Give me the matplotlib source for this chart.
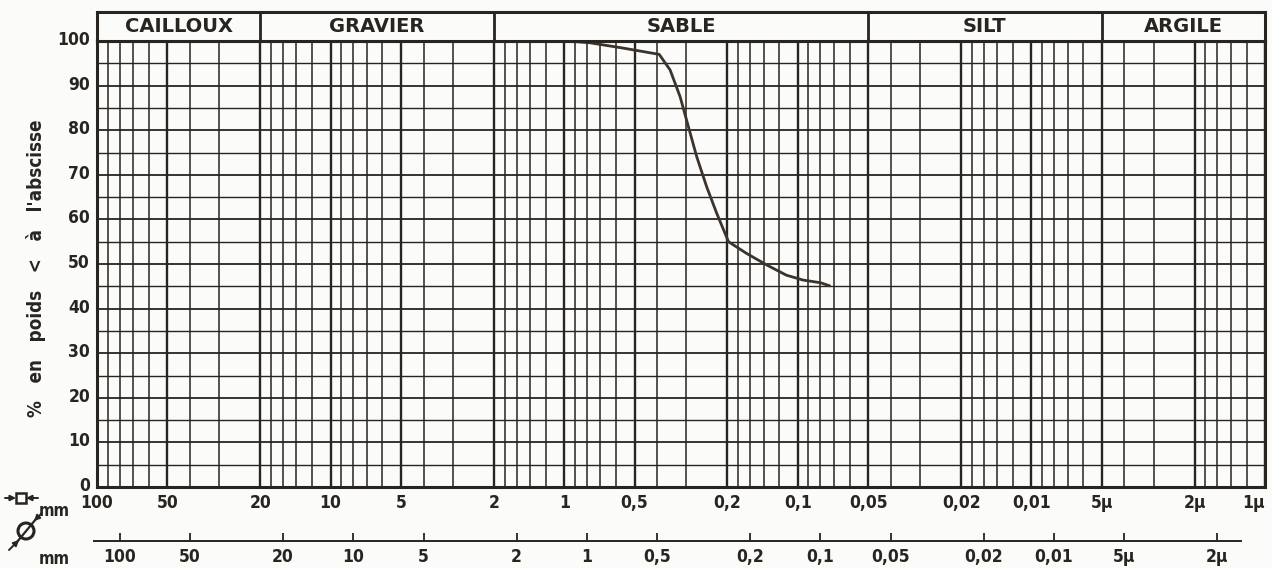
import numpy as np
import matplotlib.pyplot as plt
import matplotlib.transforms as mtransforms
from matplotlib.patches import Rectangle, Circle
from matplotlib.ticker import NullLocator

# courbe granulométrique : ouverture (mm, tamis à maille carrée) et % passant
diam_mm = [0.976, 0.776, 0.558, 0.392, 0.352, 0.319, 0.294, 0.271, 0.2455,
           0.2225, 0.198, 0.166, 0.136, 0.112, 0.095, 0.080, 0.073]
passing = [100.0, 99.6, 98.4, 97.0, 93.5, 87.5, 80.8, 74.1, 67.3,
           61.4, 55.0, 52.4, 49.8, 47.5, 46.4, 45.8, 45.1]

class_names = ["CAILLOUX", "GRAVIER", "SABLE", "SILT", "ARGILE"]
class_limits = [100, 20, 2, 0.05, 0.005, 0.001]

sq_ticks = [100, 50, 20, 10, 5, 2, 1, 0.5, 0.2, 0.1, 0.05, 0.02, 0.01,
            0.005, 0.002, 0.001]
sq_labels = ["100", "50", "20", "10", "5", "2", "1", "0,5", "0,2", "0,1",
             "0,05", "0,02", "0,01", "5µ", "2µ", "1µ"]
round_ticks = [100, 50, 20, 10, 5, 2, 1, 0.5, 0.2, 0.1, 0.05, 0.02, 0.01,
               0.005, 0.002]
round_labels = ["100", "50", "20", "10", "5", "2", "1", "0,5", "0,2", "0,1",
                "0,05", "0,02", "0,01", "5µ", "2µ"]
ROUND_TO_SQUARE = 1.25  # trou rond = 1,25 x maille carrée

# lignes verticales du papier (par décade)
mantissas = [1, 1.2, 1.4, 1.6, 1.8, 2, 3, 4, 5, 6, 7, 8, 9]

INK = "#282420"
PAPER = "#fbfbf9"
NUM = dict(family="DejaVu Sans", fontstretch="condensed", fontweight="bold")

W, H = 1272, 568


def frac(x0, y0, x1, y1):
    return [x0 / W, 1 - y1 / H, (x1 - x0) / W, (y1 - y0) / H]


def style_labels(labels):
    for lab in labels:
        lab.set_family(NUM["family"])
        lab.set_stretch(NUM["fontstretch"])
        lab.set_fontweight(NUM["fontweight"])


fig = plt.figure(figsize=(W / 100, H / 100), dpi=100)
fig.patch.set_facecolor(PAPER)

ax = fig.add_axes(frac(97, 41, 1265, 487))
ax.set_facecolor(PAPER)
ax.set_xscale("log")
ax.set_xlim(100, 0.001)
ax.set_ylim(0, 100)

for e in range(-3, 2):
    for m in mantissas:
        v = m * 10 ** e
        major = m in (1, 2, 5)
        ax.axvline(v, color=INK, lw=1.7 if major else 1.1, zorder=1)
for p in range(5, 100, 5):
    ax.axhline(p, color=INK, lw=1.3 if p % 10 == 0 else 1.0, zorder=1)

ax.plot(diam_mm, passing, color="#3b342d", lw=2.0, zorder=3,
        solid_capstyle="round", solid_joinstyle="round")

for s in ax.spines.values():
    s.set_linewidth(2.2)
    s.set_color(INK)

ax.xaxis.set_minor_locator(NullLocator())
ax.set_xticks(sq_ticks, sq_labels)
ax.set_yticks(range(0, 101, 10))
ax.tick_params(axis="both", length=0, colors=INK, labelsize=12.5)
ax.tick_params(axis="x", pad=5)
ax.tick_params(axis="y", pad=5)
style_labels(ax.get_xticklabels() + ax.get_yticklabels())
ax.get_xticklabels()[-1].set_horizontalalignment("right")
ax.get_xticklabels()[-1].set_x(0.00088)
lift = mtransforms.ScaledTranslation(0, 3 / 100, fig.dpi_scale_trans)
for lab in ax.get_yticklabels():
    lab.set_transform(lab.get_transform() + lift)

# bandeau des classes granulométriques
hdr = fig.add_axes(frac(97, 12, 1265, 41))
hdr.set_facecolor(PAPER)
hdr.set_xscale("log")
hdr.set_xlim(100, 0.001)
hdr.set_ylim(0, 1)
hdr.set_xticks([])
hdr.set_yticks([])
hdr.xaxis.set_minor_locator(NullLocator())
for s in hdr.spines.values():
    s.set_linewidth(2.2)
    s.set_color(INK)
for lim in class_limits[1:-1]:
    hdr.axvline(lim, color=INK, lw=2.0)
for name, a, b in zip(class_names, class_limits[:-1], class_limits[1:]):
    hdr.text(np.sqrt(a * b), 0.5, name, ha="center", va="center",
             fontsize=14, fontweight="bold", color=INK)

# échelle des tamis à trous ronds
ax2 = fig.add_axes(frac(97, 528, 1265, 541))
ax2.patch.set_alpha(0)
ax2.set_xscale("log")
ax2.set_xlim(100, 0.001)
ax2.xaxis.set_minor_locator(NullLocator())
for k in ("top", "left", "right"):
    ax2.spines[k].set_visible(False)
ax2.spines["bottom"].set_bounds(103, 0.00127)
ax2.spines["bottom"].set_linewidth(1.4)
ax2.spines["bottom"].set_color(INK)
ax2.set_yticks([])
ax2.set_xticks([r / ROUND_TO_SQUARE for r in round_ticks], round_labels)
ax2.tick_params(axis="x", direction="in", length=6, width=1.3, pad=5,
                colors=INK, labelsize=12.5)
style_labels(ax2.get_xticklabels())

# symboles des tamis (maille carrée / trou rond)
axo = fig.add_axes([0, 0, 1, 1])
axo.set_xlim(0, W)
axo.set_ylim(H, 0)
axo.axis("off")
axo.patch.set_alpha(0)
axo.add_patch(Rectangle((16, 493), 10, 10, fill=False, lw=1.8, color=INK))
arrow = dict(arrowstyle="-|>", lw=1.4, color=INK, mutation_scale=8,
             shrinkA=0, shrinkB=0)
axo.annotate("", xy=(16, 498), xytext=(5, 498), arrowprops=arrow)
axo.annotate("", xy=(26, 498), xytext=(38, 498), arrowprops=arrow)
axo.text(54, 511, "mm", ha="center", va="center", fontsize=12, color=INK,
         **NUM)
axo.add_patch(Circle((26, 531), 8, fill=False, lw=2.2, color=INK))
axo.plot([17, 36], [542, 519], color=INK, lw=1.6)
axo.annotate("", xy=(19, 540), xytext=(9, 550), arrowprops=arrow)
axo.annotate("", xy=(34, 521), xytext=(42, 513), arrowprops=arrow)
axo.text(54, 559, "mm", ha="center", va="center", fontsize=12, color=INK,
         **NUM)

fig.text(36 / W, 1 - 268 / H, "%   en   poids   <   à   l'abscisse",
         rotation=90, ha="center", va="center", fontsize=13.5, color=INK,
         **NUM)

fig.savefig("out.png", dpi=100, facecolor=PAPER)
